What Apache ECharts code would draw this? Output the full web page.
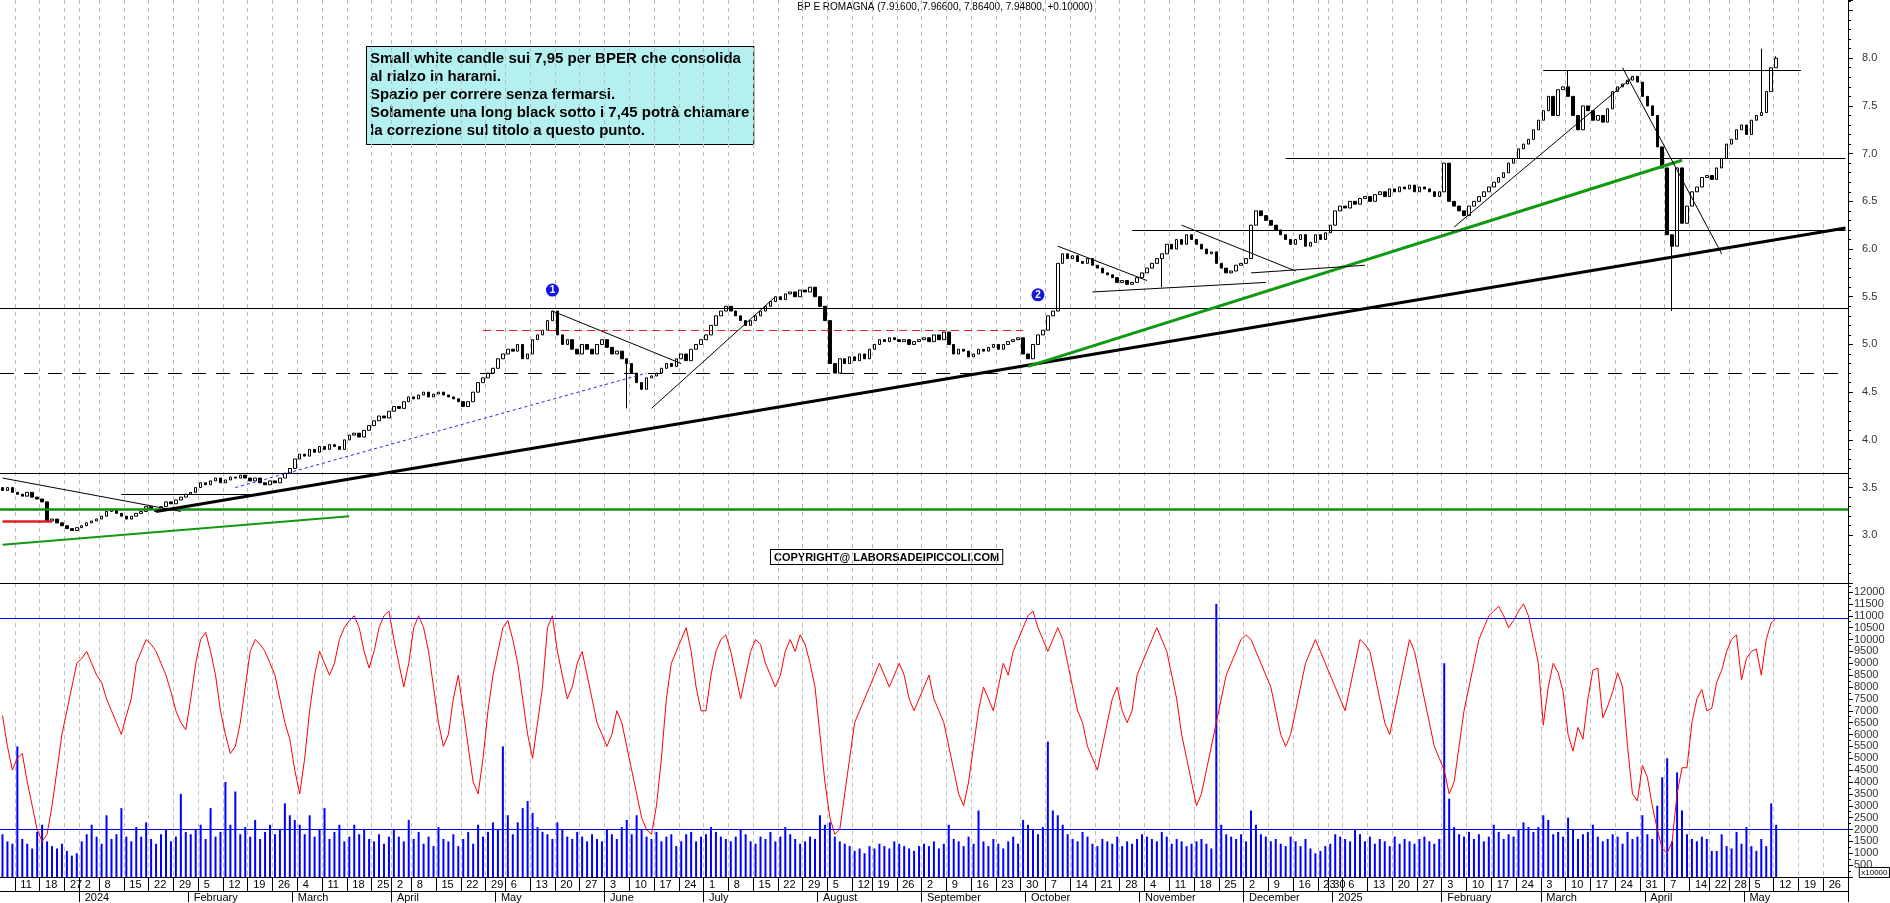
<!DOCTYPE html>
<html><head><meta charset="utf-8">
<script src="https://cdn.jsdelivr.net/npm/echarts@6/dist/echarts.min.js"></script>
<style>html,body{margin:0;padding:0;background:#fff}#c{width:1890px;height:903px}</style>
</head><body><div id="c"></div>
<script>
// ---- closes per month ----
const cDec23=[3.42,3.45,3.40,3.38,3.36,3.40,3.35,3.33,3.30,3.10,3.12,3.08,3.05,3.02,3.00,3.03];
const cJan24=[3.05,3.08,3.10,3.12,3.15,3.20,3.22,3.18,3.15,3.12,3.15,3.18,3.20,3.25,3.22,3.20,3.25,3.30,3.28,3.32,3.35,3.38];
const cFeb24=[3.40,3.45,3.50,3.48,3.52,3.55,3.50,3.53,3.56,3.55,3.58,3.55,3.52,3.55,3.50,3.48,3.52,3.50,3.55,3.60,3.65];
const cMar24=[3.75,3.80,3.78,3.85,3.82,3.88,3.85,3.90,3.88,3.85,3.95,4.00,4.02,3.98,4.05,4.10,4.15,4.20,4.18,4.25];
const cApr24=[4.30,4.28,4.35,4.40,4.38,4.42,4.45,4.40,4.43,4.45,4.42,4.40,4.38,4.35,4.30,4.35,4.45,4.55,4.60,4.65,4.70];
const cMay24=[4.80,4.85,4.90,4.88,4.95,4.80,4.85,5.00,5.05,5.10,5.20,5.30,5.05,4.95,5.00,4.90,4.85,4.95,4.90,4.85,4.95,5.00];
const cJun24=[4.92,4.85,4.88,4.80,4.75,4.65,4.55,4.48,4.60,4.62,4.65,4.70,4.75,4.72,4.80,4.85,4.78,4.90,4.95,5.00];
const cJul24=[5.05,5.15,5.25,5.30,5.35,5.30,5.25,5.20,5.15,5.20,5.25,5.30,5.35,5.40,5.45,5.42,5.48,5.50,5.45,5.52,5.50,5.55,5.45];
const cAug24=[5.35,5.20,4.75,4.65,4.80,4.75,4.82,4.78,4.85,4.80,4.90,4.95,5.00,4.98,5.02,5.00,4.98,5.00,4.95,4.98,5.00];
const cSep24=[5.02,4.98,5.05,5.00,5.08,4.95,4.85,4.90,4.88,4.82,4.85,4.90,4.88,4.92,4.95,4.90,4.95,4.98,5.00,5.02,4.85];
const cOct24=[4.80,4.95,5.05,5.10,5.25,5.30,5.80,5.90,5.85,5.88,5.82,5.80,5.85,5.78,5.75,5.70,5.68,5.65,5.60,5.62,5.58,5.60,5.65];
const cNov24=[5.70,5.75,5.80,5.85,5.90,6.00,5.95,6.05,6.00,6.10,6.05,6.00,5.95,5.90,5.92,5.80,5.75,5.70,5.72,5.78,5.80];
const cDec24=[5.85,6.20,6.35,6.30,6.25,6.20,6.15,6.10,6.05,6.00,6.05,6.10,5.98,6.02,6.10,6.05,6.12,6.20];
const cJan25=[6.35,6.40,6.38,6.45,6.42,6.48,6.50,6.45,6.52,6.55,6.50,6.58,6.55,6.60,6.58,6.62,6.55,6.60,6.58,6.55,6.50,6.55];
const cFeb25=[6.85,6.45,6.40,6.35,6.30,6.40,6.45,6.50,6.55,6.60,6.65,6.70,6.75,6.85,6.90,7.00,7.05,7.10,7.20,7.30];
const cMar25=[7.40,7.55,7.35,7.62,7.65,7.55,7.35,7.20,7.45,7.40,7.30,7.35,7.28,7.42,7.60,7.65,7.68,7.72,7.76,7.70,7.55];
const cApr25=[7.45,7.35,7.02,6.80,6.10,5.98,6.80,6.22,6.40,6.55,6.60,6.70,6.72,6.68,6.80,6.90,7.05,7.10,7.20,7.25];
const cMay25=[7.15,7.30,7.35,7.38,7.60,7.85,7.95];
const openFirst=3.45;
// extra wicks: [index, low, high]
const wicks=[[126,4.28,4.62],[234,5.55,5.75],[316,7.55,7.82],[337,5.30,6.10],[355,7.85,8.05],[358,7.86,7.97]];
// ---- indicator (red) per month ----
const rDec23=[6800,5500,4500,5000,5200,4000,3000,2000,1500,1800,3000,4500,6000,7000,8000,9000];
const rJan24=[9200,9500,9000,8500,8200,7500,7000,6500,6000,6800,7500,9000,9500,10000,9800,9500,9000,8500,7800,7000,6500,6200];
const rFeb24=[7500,9000,10000,10300,9500,8500,7000,6000,5200,5500,6500,8000,9500,10000,9800,9500,9000,8500,7500,6500,5800];
const rMar24=[4500,3500,5000,7000,8500,9500,9000,8500,9000,10000,10500,10800,11000,10500,9500,8800,9500,10500,11000,11200];
const rApr24=[10000,9000,8000,9000,10500,11000,10500,9500,8000,6500,5500,6000,7500,8500,7000,5500,4000,3500,5000,7000,8500];
const rMay24=[9500,10500,10800,10000,9000,7500,6000,5000,6500,8000,10500,11000,9500,8500,7500,8000,9000,9500,8500,7500,6500,6000];
const rJun24=[5500,6000,7000,6500,5500,4500,3500,2500,2000,1800,3000,5000,7500,9000,9500,10000,10500,9500,8000,7000];
const rJul24=[7000,8500,9500,10000,10200,9500,8500,7500,8500,9500,10000,9800,9000,8500,8000,8500,9500,10000,9500,10200,9800,9000,8000];
const rAug24=[6000,4000,2500,1800,2000,3500,5000,6500,7000,7500,8000,8500,9000,8500,8000,8500,9000,8500,7500,7000,7500];
const rSep24=[8000,8500,7500,7000,6500,5500,4500,3500,3000,4000,5500,7000,8000,7500,7000,8000,9000,8500,9500,10000,10500];
const rOct24=[11000,11200,10500,10000,9500,10000,10500,10000,9000,8000,7000,6500,5500,5000,4500,5500,6500,7500,8000,7000,6500,7000,8500];
const rNov24=[9000,9500,10000,10500,10000,9500,8500,7500,6000,5000,4000,3000,3500,4500,5500,6500,7500,8500,9000,9500,10000];
const rDec24=[10200,10000,9500,9000,8500,8000,7000,6000,5500,6000,7000,8000,9000,9500,10000,9500,9000,8500];
const rJan25=[8000,7500,7000,8000,9000,10000,9800,9500,8500,7500,6500,6000,7000,8000,9000,10000,9500,8500,7500,6500,5500,5000];
const rFeb25=[4500,3500,4000,5500,7000,8000,9000,10000,10500,11000,11200,11400,11000,10500,10800,11200,11500,11000,10000,9000];
const rMar25=[6400,8000,9000,8600,7800,6000,5300,6300,5800,7500,8700,8800,6700,7200,7800,8600,8000,5500,3500,3200,4700];
const rApr25=[4200,3000,2000,1200,1000,1500,3500,4600,4600,6500,7500,7900,7000,7100,8200,8700,9500,10000,10200,8300];
const rMay25=[9200,9500,9600,8500,10000,10700,10900];
// ---- volume (x10000) per month ----
const vDec23=[1800,1500,1400,5500,1600,1400,1200,1900,2200,1500,1300,1200,1400,1100,900,1000];
const vJan24=[1500,1800,2200,1700,1400,2600,1600,1800,2900,1700,1500,2100,1700,2300,1600,1400,1800,2000,1500,1700,3500,1900];
const vFeb24=[1800,2000,2200,1600,2900,1700,1900,4000,2200,3600,1800,2100,1700,2400,1600,1900,2200,1800,2000,3100,2600];
const vMar24=[2400,2200,1800,2600,1700,2000,2900,1600,1900,2200,1500,1700,2200,1800,2000,1600,1500,1800,1400,1700];
const vApr24=[2000,1700,1500,2400,1600,1900,1400,1700,1300,2100,1600,1500,1800,1300,1600,1900,1400,2200,1700,1900,2300];
const vMay24=[2000,5500,2600,1800,2300,2900,3200,2700,2100,1900,1800,1600,2300,2000,1700,1600,1900,1700,1500,1800,1600,1500];
const vJun24=[2000,1800,1600,2100,2400,1800,2600,2000,1700,1600,1900,1500,1700,1800,1300,1500,1800,1900,1500,1700];
const vJul24=[1800,2100,1900,1700,1600,1500,1700,2000,1800,1500,1400,1700,1600,1900,1500,1700,2100,1800,1600,1400,1500,1700,1600];
const vAug24=[2600,2200,2300,1700,1500,1400,1300,1100,1200,1000,1300,1200,1400,1300,1200,1500,1400,1300,1200,1100,1300];
const vSep24=[1400,1300,1500,1200,1400,2200,1600,1500,1300,1700,1400,2800,1500,1300,1600,1400,1200,1500,1700,1400,2400];
const vOct24=[2200,2000,1800,2100,5700,2800,2600,2200,1800,1600,1500,1900,1700,1400,1300,1600,1500,1400,1700,1300,1500,1400,1600];
const vNov24=[1800,1700,1600,1500,1900,1700,1400,1600,1500,1300,1400,1500,1600,1400,1200,11500,2200,1800,1700,1600,1800];
const vDec24=[1500,2800,2200,1800,1700,1500,1600,1400,1300,1700,1500,1300,1600,1200,1000,1100,1300,1400];
const vJan25=[1800,1700,1600,1500,2000,1800,1500,1700,1400,1600,1500,1300,1700,1400,1600,1500,1400,1600,1700,1500,1400,1600];
const vFeb25=[9000,3300,2100,1800,1700,1900,1600,1800,1500,1700,2200,1900,1600,1800,1700,2000,2300,2100,1900,2100];
const vMar25=[2600,2400,1800,1900,1700,2500,2000,1600,1800,1900,2200,1700,1500,1600,1800,1700,1400,1900,1600,1700,2600];
const vApr25=[1800,1600,3000,4200,5000,1500,4400,2800,1800,1600,1500,1700,1600,1100,1100,1800,1300,1200,1900,1400];
const vMay25=[2100,1300,1100,1600,1300,3100,2200];
// ---- reference levels / trend lines: [idxA, priceA, idxB, priceB] ----
const hLevels=[5.33,3.60];
const dashedLevel=4.65;
const greenLevel=3.22;
const segThickBlack=[[31,3.20,372,6.17]];
const segThickGreen=[[207,4.72,339,6.88]];
const segThinGreen=[[0,2.85,70,3.15]];
const segThin=[[259,6.90,372,6.90],[228,6.15,372,6.15],[311,7.82,363,7.82],[111,5.30,137,4.75],[131,4.28,156,5.45],[0,3.55,36,3.20],[24,3.38,50,3.38],[213,5.98,231,5.62],[220,5.50,255,5.60],[238,6.20,261,5.72],[252,5.70,275,5.78],[293,6.18,329,7.75],[327,7.85,347,5.90]];
const segRedDash=[[97,5.10,206,5.10]];
const segRed=[[0,3.10,10,3.10]];
const segBlueDot=[[47,3.45,130,4.65]];
const badges=[["1",111,5.52],["2",209,5.47]];
const indLevels=[10900,2000];
const monthNames=["January","February","March","April","May","June","July","August","September","October","November","December"];

const holidays=new Set(['2023-12-25','2023-12-26','2024-01-01','2024-03-29','2024-04-01','2024-05-01','2024-08-15','2024-12-24','2024-12-25','2024-12-26','2024-12-31','2025-01-01','2025-04-18','2025-04-21','2025-05-01']);
const dates=[];
for(let d=new Date(Date.UTC(2023,11,6));d<=new Date(Date.UTC(2025,4,30));d.setUTCDate(d.getUTCDate()+1)){
  const wd=d.getUTCDay(); const s=d.toISOString().slice(0,10);
  if(wd===0||wd===6||holidays.has(s)) continue; dates.push(s);
}
const closes=[].concat(cDec23,cJan24,cFeb24,cMar24,cApr24,cMay24,cJun24,cJul24,cAug24,cSep24,cOct24,cNov24,cDec24,cJan25,cFeb25,cMar25,cApr25,cMay25);
const reds=[].concat(rDec23,rJan24,rFeb24,rMar24,rApr24,rMay24,rJun24,rJul24,rAug24,rSep24,rOct24,rNov24,rDec24,rJan25,rFeb25,rMar25,rApr25,rMay25);
const vols=[].concat(vDec23,vJan24,vFeb24,vMar24,vApr24,vMay24,vJun24,vJul24,vAug24,vSep24,vOct24,vNov24,vDec24,vJan25,vFeb25,vMar25,vApr25,vMay25);
const ohlc=closes.map((c,i)=>{const o=i?closes[i-1]:openFirst;return [o,c,Math.min(o,c),Math.max(o,c)];});
wicks.forEach(([i,l,h])=>{if(ohlc[i]){ohlc[i][2]=Math.min(l,ohlc[i][2]);ohlc[i][3]=Math.max(h,ohlc[i][3]);}});

const weekKey=s=>{const d=new Date(s);return Math.floor((d.getTime()/864e5+3)/7);};
const weekStart=dates.map((s,i)=>i>0&&weekKey(s)!==weekKey(dates[i-1]));
const monthStart=dates.map((s,i)=>i>0&&s.slice(5,7)!==dates[i-1].slice(5,7));
const seg=(arr,style)=>arr.map(([a,p,b,q])=>[{coord:[a,p],lineStyle:style},{coord:[b,q]}]);
const font='"Liberation Sans", Arial, sans-serif';

const markLines=[].concat(
  hLevels.map(v=>({yAxis:v,lineStyle:{color:'#000',width:1,type:'solid'}})),
  [{yAxis:dashedLevel,lineStyle:{color:'#000',width:1,type:[14,10]}},
   {yAxis:greenLevel,lineStyle:{color:'#109010',width:2.5,type:'solid'}}],
  seg(segThickBlack,{color:'#000',width:3,type:'solid'}),
  seg(segThickGreen,{color:'#119911',width:3,type:'solid'}),
  seg(segThinGreen,{color:'#119911',width:2,type:'solid'}),
  seg(segThin,{color:'#000',width:1,type:'solid'}),
  seg(segRedDash,{color:'#e02020',width:1,type:[8,5]}),
  seg(segRed,{color:'#e02020',width:2.5,type:'solid'}),
  seg(segBlueDot,{color:'#2020ff',width:1,type:[3,3]})
);

const chart=echarts.init(document.getElementById('c'));
const xBase={type:'category',data:dates,boundaryGap:true};
chart.setOption({
  animation:false,backgroundColor:'#fff',
  textStyle:{fontFamily:font},
  grid:[{left:0,right:42,top:0,height:583,show:false},{left:0,right:42,top:583,bottom:25}],
  xAxis:[
    Object.assign({},xBase,{gridIndex:0,axisLine:{show:true,onZero:false,lineStyle:{color:'#000'}},axisTick:{show:false},axisLabel:{show:false},
      splitLine:{show:true,interval:(i)=>weekStart[i],lineStyle:{color:'#bbb',type:[4,4]}}}),
    Object.assign({},xBase,{gridIndex:1,position:'bottom',axisLine:{lineStyle:{color:'#000'}},
      axisTick:{show:true,interval:(i)=>weekStart[i],length:14,lineStyle:{color:'#000'}},
      axisLabel:{interval:(i)=>weekStart[i],formatter:v=>String(+v.slice(8,10)),color:'#000',fontSize:11,align:'left',margin:2,padding:[0,0,0,3]},
      splitLine:{show:true,interval:(i)=>weekStart[i],lineStyle:{color:'#bbb',type:[4,4]}}}),
    Object.assign({},xBase,{gridIndex:1,position:'bottom',offset:14,axisLine:{lineStyle:{color:'#000'}},
      axisTick:{show:true,interval:(i)=>monthStart[i],length:11,lineStyle:{color:'#000'}},
      axisLabel:{interval:(i)=>monthStart[i],formatter:v=>{const m=+v.slice(5,7);return m===1?v.slice(0,4):monthNames[m-1];},color:'#000',fontSize:11,align:'left',margin:1,padding:[0,0,0,3]}})
  ],
  yAxis:[
    {gridIndex:0,position:'right',min:2.45,max:8.56,interval:0.5,axisLine:{show:true,lineStyle:{color:'#000'}},
     axisTick:{show:true,lineStyle:{color:'#000'}},minorTick:{show:true,splitNumber:5,length:3,lineStyle:{color:'#000'}},
     axisLabel:{formatter:v=>(v>8.2||v<2.8)?'':v.toFixed(1),color:'#333',fontSize:11,margin:14,showMinLabel:false,showMaxLabel:false},splitLine:{show:false}},
    {gridIndex:1,position:'right',min:0,max:12380,interval:500,axisLine:{show:true,lineStyle:{color:'#000'}},
     axisTick:{show:true,lineStyle:{color:'#000'}},minorTick:{show:true,splitNumber:2,length:3,lineStyle:{color:'#000'}},
     axisLabel:{formatter:v=>String(v),color:'#333',fontSize:11,margin:6,showMinLabel:false,showMaxLabel:false},splitLine:{show:false}}
  ],
  series:[
    {type:'candlestick',xAxisIndex:0,yAxisIndex:0,data:ohlc,barWidth:3,
     itemStyle:{color:'#fff',color0:'#000',borderColor:'#000',borderColor0:'#000',borderWidth:1},
     markLine:{silent:true,symbol:'none',label:{show:false},data:markLines},
     markPoint:{silent:true,symbol:'circle',symbolSize:13,itemStyle:{color:'#1515e0'},
       label:{show:true,color:'#fff',fontSize:10,fontWeight:'bold',formatter:p=>p.name},
       data:badges.map(([n,i,v])=>({name:n,coord:[i,v]}))}},
    {type:'bar',xAxisIndex:1,yAxisIndex:1,data:vols,barWidth:2,itemStyle:{color:'#0000ff'},
     markLine:{silent:true,symbol:'none',label:{show:false},lineStyle:{color:'#0000ff',width:1,type:'solid'},data:indLevels.map(v=>({yAxis:v}))}},
    {type:'line',xAxisIndex:1,yAxisIndex:1,data:reds,showSymbol:false,lineStyle:{color:'#ff0000',width:1},z:3}
  ],
  graphic:[
    {type:'text',left:'center',top:2,style:{text:'BP E ROMAGNA (7.91600, 7.96600, 7.86400, 7.94800, +0.10000)',font:'10px '+font,fill:'#000'}},
    {type:'text',left:366,top:46,style:{text:'Small white candle sui 7,95 per BPER che consolida\nal rialzo in harami.\nSpazio per correre senza fermarsi.\nSolamente una long black sotto i 7,45 potrà chiamare\nla correzione sul titolo a questo punto.',
      font:'bold 15px '+font,fill:'#000',lineHeight:18,backgroundColor:'#b4f0f0',borderColor:'#000',borderWidth:1,padding:[3,4,4,3]}},
    {type:'text',left:770,top:549,style:{text:'COPYRIGHT@ LABORSADEIPICCOLI.COM',font:'bold 11px '+font,fill:'#000',backgroundColor:'#fff',borderColor:'#000',borderWidth:1,padding:[2,3,1,3]}},
    {type:'text',right:0,top:867,style:{text:'x10000',font:'8px '+font,fill:'#000',borderColor:'#000',borderWidth:1,padding:[1,2]}}
  ]
});
</script></body></html>
